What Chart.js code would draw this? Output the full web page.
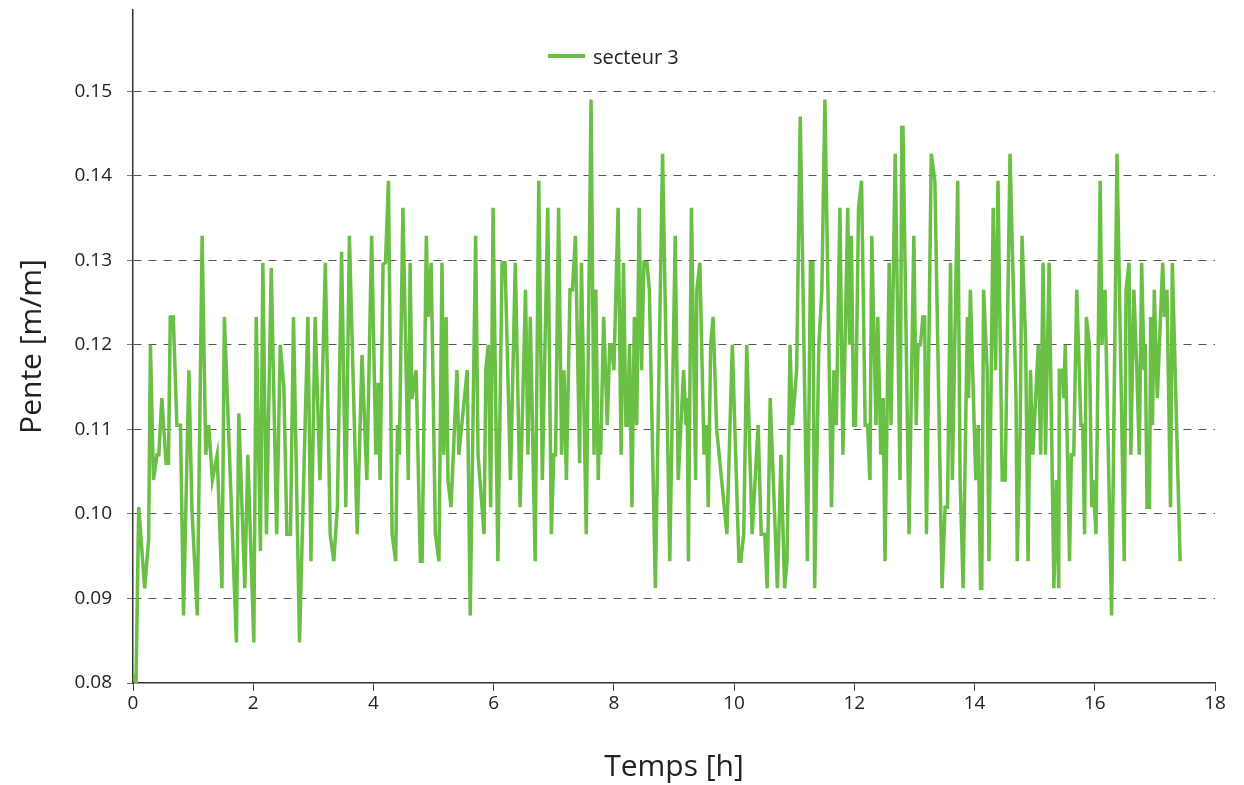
<!DOCTYPE html>
<html>
<head>
<meta charset="utf-8">
<script src="https://cdn.jsdelivr.net/npm/chart.js@4.4.1/dist/chart.umd.min.js"></script>
<style>
  html, body { margin: 0; padding: 0; background: #fff; }
  #wrap { position: relative; width: 1244px; height: 785px; }
  #legend { position: absolute; left: 548px; top: 42px; height: 28px; display: flex; align-items: center;
            font-family: "Open Sans", sans-serif; font-size: 20px; color: #222; }
  #legend .swatch { width: 37px; height: 4px; background: #6abf45; margin-right: 8px; }
</style>
</head>
<body>
<div id="wrap">
  <canvas id="chart" width="1244" height="785"></canvas>
  <div id="legend"><span class="swatch"></span><span>secteur 3</span></div>
</div>
<script>
// secteur 3 - pente vs temps
const seriesName = "secteur 3";
const xTicks = [0, 2, 4, 6, 8, 10, 12, 14, 16, 18];
const yTicks = [0.08, 0.09, 0.10, 0.11, 0.12, 0.13, 0.14, 0.15];

const times = [
  0, 0.05, 0.095, 0.195, 0.26, 0.29, 0.34, 0.40, 0.43, 0.48, 0.55, 0.59, 0.62, 0.67, 0.73, 0.79,
  0.84, 0.93, 0.98, 1.07, 1.15, 1.21, 1.26, 1.32, 1.40, 1.48, 1.52, 1.72, 1.76, 1.86, 1.91, 2.01,
  2.05, 2.12, 2.16, 2.22, 2.30, 2.39, 2.45, 2.51, 2.56, 2.62, 2.67, 2.77, 2.91, 2.96, 3.03, 3.11,
  3.20, 3.28, 3.34, 3.40, 3.47, 3.54, 3.60, 3.73, 3.81, 3.89, 3.97, 4.04, 4.08, 4.11, 4.16, 4.20,
  4.25, 4.31, 4.37, 4.40, 4.43, 4.49, 4.58, 4.61, 4.64, 4.71, 4.78, 4.81, 4.88, 4.91, 4.96, 5.03,
  5.09, 5.14, 5.17, 5.21, 5.24, 5.29, 5.39, 5.42, 5.56, 5.61, 5.70, 5.74, 5.84, 5.87, 5.91, 5.95,
  5.99, 6.07, 6.14, 6.19, 6.28, 6.36, 6.44, 6.53, 6.57, 6.61, 6.69, 6.75, 6.81, 6.90, 6.96, 7.00,
  7.03, 7.08, 7.13, 7.17, 7.21, 7.27, 7.31, 7.36, 7.43, 7.46, 7.54, 7.62, 7.67, 7.70, 7.74, 7.76,
  7.78, 7.83, 7.89, 7.93, 7.96, 8.00, 8.07, 8.12, 8.16, 8.20, 8.23, 8.26, 8.30, 8.34, 8.38, 8.42,
  8.46, 8.50, 8.55, 8.59, 8.69, 8.81, 8.93, 9.02, 9.07, 9.16, 9.20, 9.22, 9.24, 9.29, 9.36, 9.38,
  9.43, 9.50, 9.54, 9.57, 9.61, 9.65, 9.71, 9.88, 9.97, 10.08, 10.11, 10.16, 10.21, 10.30, 10.40, 10.45,
  10.51, 10.55, 10.60, 10.72, 10.78, 10.84, 10.88, 10.93, 10.97, 11.04, 11.10, 11.22, 11.27, 11.31, 11.34, 11.41,
  11.46, 11.51, 11.62, 11.66, 11.70, 11.76, 11.81, 11.89, 11.92, 11.95, 11.99, 12.02, 12.07, 12.12, 12.18, 12.22,
  12.26, 12.29, 12.36, 12.39, 12.44, 12.48, 12.51, 12.58, 12.61, 12.68, 12.76, 12.79, 12.81, 12.91, 12.99, 13.03,
  13.06, 13.10, 13.14, 13.17, 13.20, 13.28, 13.34, 13.46, 13.51, 13.55, 13.60, 13.63, 13.72, 13.76, 13.81, 13.88,
  13.90, 13.93, 14.02, 14.06, 14.10, 14.12, 14.15, 14.21, 14.24, 14.31, 14.35, 14.39, 14.46, 14.51, 14.59, 14.69,
  14.71, 14.76, 14.79, 14.85, 14.89, 14.93, 14.97, 15.06, 15.10, 15.14, 15.18, 15.24, 15.32, 15.36, 15.40, 15.41,
  15.46, 15.48, 15.51, 15.58, 15.61, 15.65, 15.70, 15.77, 15.80, 15.83, 15.86, 15.91, 15.95, 15.97, 16.02, 16.09,
  16.12, 16.17, 16.28, 16.37, 16.49, 16.52, 16.57, 16.60, 16.65, 16.70, 16.74, 16.78, 16.82, 16.84, 16.87, 16.91,
  16.93, 16.96, 16.99, 17.04, 17.13, 17.16, 17.20, 17.26, 17.29, 17.42
];

const pente = [
  0.081, 0.080, 0.1008, 0.0912, 0.097, 0.120, 0.104, 0.107, 0.107, 0.1137, 0.106, 0.106, 0.1233, 0.1233, 0.1105, 0.1105,
  0.088, 0.117, 0.1005, 0.088, 0.1329, 0.107, 0.1105, 0.104, 0.107, 0.0912, 0.1233, 0.0848, 0.1119, 0.0912, 0.107, 0.0848,
  0.1233, 0.0956, 0.1297, 0.0976, 0.1291, 0.0976, 0.120, 0.1149, 0.0976, 0.0976, 0.1233, 0.0848, 0.1233, 0.0944, 0.1233, 0.104,
  0.1297, 0.0976, 0.0944, 0.1008, 0.131, 0.1008, 0.1329, 0.0976, 0.1188, 0.104, 0.1329, 0.107, 0.1155, 0.104, 0.1295, 0.1297,
  0.1394, 0.0976, 0.0944, 0.1105, 0.107, 0.1362, 0.104, 0.1297, 0.1136, 0.117, 0.0944, 0.0944, 0.1329, 0.1233, 0.1297, 0.0976,
  0.0944, 0.1297, 0.107, 0.1233, 0.104, 0.1008, 0.117, 0.107, 0.117, 0.088, 0.1329, 0.107, 0.0976, 0.117, 0.120, 0.1008,
  0.1362, 0.0944, 0.1297, 0.1297, 0.104, 0.1297, 0.1008, 0.1265, 0.107, 0.1233, 0.0944, 0.1394, 0.104, 0.1362, 0.0976, 0.107,
  0.107, 0.1362, 0.107, 0.117, 0.104, 0.1265, 0.1265, 0.1329, 0.106, 0.1297, 0.0976, 0.149, 0.107, 0.1265, 0.104, 0.1105,
  0.107, 0.1233, 0.1105, 0.120, 0.120, 0.117, 0.1362, 0.107, 0.1297, 0.1105, 0.1105, 0.120, 0.1008, 0.1233, 0.1105, 0.1362,
  0.117, 0.1297, 0.1297, 0.1265, 0.0912, 0.1426, 0.0944, 0.1329, 0.104, 0.117, 0.1105, 0.1137, 0.0944, 0.1362, 0.104, 0.1265,
  0.1297, 0.107, 0.1105, 0.1008, 0.120, 0.1233, 0.110, 0.0976, 0.120, 0.0944, 0.0944, 0.0976, 0.120, 0.0976, 0.1105, 0.0976,
  0.0976, 0.0912, 0.1137, 0.0912, 0.107, 0.0912, 0.0944, 0.120, 0.1105, 0.117, 0.147, 0.0944, 0.1297, 0.1297, 0.0912, 0.120,
  0.1265, 0.149, 0.1008, 0.117, 0.1105, 0.1362, 0.107, 0.1362, 0.120, 0.1329, 0.1105, 0.1105, 0.1362, 0.1394, 0.1105, 0.1105,
  0.104, 0.1329, 0.1105, 0.1233, 0.107, 0.1137, 0.0944, 0.1297, 0.1105, 0.1426, 0.104, 0.1457, 0.1457, 0.0976, 0.1329, 0.1105,
  0.120, 0.120, 0.1233, 0.1233, 0.0976, 0.1426, 0.1394, 0.0912, 0.1008, 0.1008, 0.1297, 0.104, 0.1394, 0.104, 0.0912, 0.1233,
  0.1137, 0.1265, 0.104, 0.1105, 0.0912, 0.0912, 0.1265, 0.117, 0.0944, 0.1362, 0.117, 0.1394, 0.104, 0.104, 0.1426, 0.1137,
  0.0944, 0.1105, 0.1329, 0.120, 0.0944, 0.117, 0.107, 0.120, 0.107, 0.1297, 0.107, 0.1297, 0.0912, 0.104, 0.0912, 0.117,
  0.117, 0.1137, 0.120, 0.0944, 0.107, 0.107, 0.1265, 0.1105, 0.1105, 0.0976, 0.1233, 0.120, 0.1008, 0.104, 0.0976, 0.1394,
  0.120, 0.1265, 0.088, 0.1426, 0.0944, 0.1265, 0.1297, 0.107, 0.1265, 0.117, 0.107, 0.1297, 0.117, 0.120, 0.1008, 0.1008,
  0.1233, 0.1105, 0.1265, 0.1137, 0.1297, 0.1233, 0.1265, 0.1008, 0.1297, 0.0944
];

const lineColor = "#6abf45";
const font = "'Open Sans', sans-serif";

const points = times.map((t, i) => ({ x: t, y: pente[i] }));

new Chart(document.getElementById("chart"), {
  type: "line",
  data: {
    datasets: [{
      label: seriesName,
      data: points,
      borderColor: lineColor,
      backgroundColor: lineColor,
      borderWidth: 3.5,
      pointRadius: 0,
      tension: 0
    }]
  },
  options: {
    responsive: false,
    animation: false,
    layout: { padding: { top: 10, right: 29, bottom: 0, left: 0 } },
    plugins: {
      legend: { display: false },
      tooltip: { enabled: false }
    },
    scales: {
      x: {
        type: "linear",
        min: 0,
        max: 18,
        afterBuildTicks: s => { s.ticks = xTicks.map(v => ({ value: v })); },
        afterFit: s => { s.height = 102; },
        ticks: { color: "#222", font: { family: font, size: 19 }, padding: 1 },
        grid: { drawOnChartArea: false, drawTicks: true, tickLength: 8, color: "#444", lineWidth: 1 },
        border: { color: "#333", width: 1.5 },
        title: { display: true, text: "Temps [h]", color: "#222", font: { family: font, size: 30 }, padding: { top: 0, bottom: 0 } }
      },
      y: {
        min: 0.08,
        max: 0.1596,
        afterBuildTicks: s => { s.ticks = yTicks.map(v => ({ value: v })); },
        afterFit: s => { s.width = 133; s.paddingTop = 0; s.paddingBottom = 0; },
        ticks: {
          color: "#222",
          font: { family: font, size: 19 },
          padding: 15,
          callback: v => v.toFixed(2)
        },
        grid: {
          color: c => (c.tick && c.tick.value < 0.085 ? "rgba(0,0,0,0)" : "#555"),
          lineWidth: 1,
          tickBorderDash: [],
          tickColor: "#777",
          tickLength: 6
        },
        border: { color: "#333", width: 1.5, dash: [8, 7] },
        title: { display: true, text: "Pente [m/m]", color: "#222", font: { family: font, size: 30 }, padding: { top: 14, bottom: 0 } }
      }
    }
  }
});
</script>
</body>
</html>
